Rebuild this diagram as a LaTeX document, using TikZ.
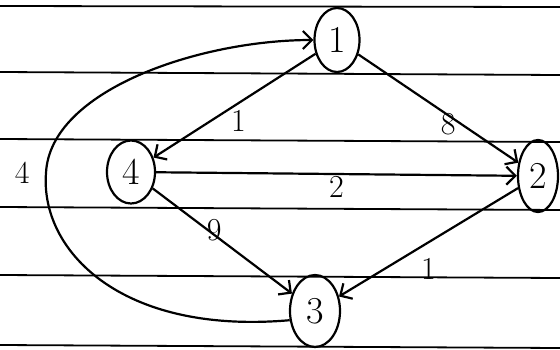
\documentclass[tikz,border=0pt]{standalone}
\usetikzlibrary{shapes.geometric,arrows.meta}

\begin{document}
\begin{tikzpicture}[x=1pt, y=-1pt, line width=2.2pt,
    >={Straight Barb[length=9pt, width=18pt]},
    vertex/.style={draw, ellipse, inner sep=0pt, font=\fontsize{38}{42}\selectfont},
    wt/.style={font=\fontsize{32}{36}\selectfont}]
  \useasboundingbox (0,0) rectangle (560,349);
  % ruled paper
  \foreach \ya/\yb in {6/7, 72/75, 139/142, 207/210, 275/278, 345/348}
    \draw[line width=1.8pt] (0,\ya) -- (560,\yb);

  \node[vertex, minimum width=45pt, minimum height=64pt] (n1) at (337,40) {1};
  \node[vertex, minimum width=48pt, minimum height=63pt] (n4) at (131,172) {4};
  \node[vertex, minimum width=40pt, minimum height=72pt] (n2) at (538,176) {2};
  \node[vertex, minimum width=50pt, minimum height=72pt] (n3) at (315,311) {3};
  \coordinate (bend) at (46,173);

  \draw[->] (n1) -- node[wt, below, xshift=4pt] {1} (n4);
  \draw[->] (n1) -- node[wt, below, xshift=10pt] {8} (n2);
  \draw[->] (n4) -- node[wt, below, inner sep=1pt] {2} (n2);
  \draw[->] (n4) -- node[wt, above, inner sep=1pt, yshift=-2pt, xshift=-8pt] {9} (n3);
  \draw[->] (n2) -- node[wt, below, yshift=-12pt] {1} (n3);
  \draw[->] (n3.200) .. controls (120,335) and (40,250) .. (bend)
    .. controls (50,90) and (200,40) .. (n1.west);
  \node[wt, left=12pt] at (bend) {4};
\end{tikzpicture}
\end{document}
